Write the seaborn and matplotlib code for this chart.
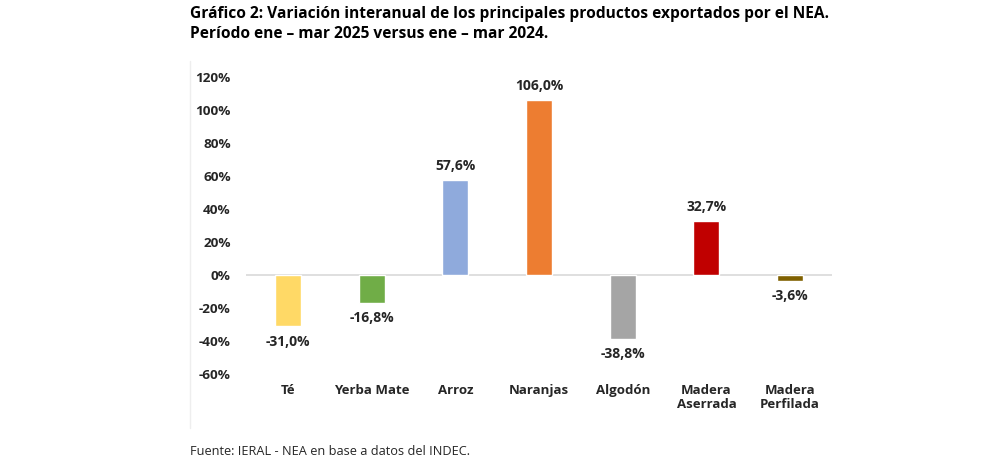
import matplotlib
matplotlib.use("Agg")
import matplotlib.pyplot as plt
import matplotlib.lines as mlines
import seaborn as sns
import pandas as pd

# datos
productos = ["Té", "Yerba Mate", "Arroz", "Naranjas", "Algodón",
             "Madera\nAserrada", "Madera\nPerfilada"]
variacion = [-31.0, -16.8, 57.6, 106.0, -38.8, 32.7, -3.6]
colores = ["#FFD966", "#70AD47", "#8FAADC", "#ED7D31", "#A5A5A5",
           "#C00000", "#7F6000"]
y_ticks = [-60, -40, -20, 0, 20, 40, 60, 80, 100, 120]

df = pd.DataFrame({"producto": productos, "variacion": variacion})

sns.set_style("white")
plt.rcParams["font.family"] = ["Open Sans", "DejaVu Sans"]

fig = plt.figure(figsize=(10, 4.67), dpi=100)
ax = fig.add_axes([0.246, 0.199, 0.586, 0.636])

sns.barplot(data=df, x="producto", y="variacion", hue="producto",
            palette=colores, width=0.31, legend=False, ax=ax, saturation=1)

ax.axhline(0, color="#D9D9D9", lw=1.2, zorder=0)
ax.set_ylim(-60, 120)
ax.set_xlim(-0.5, 6.5)
ax.set_yticks(y_ticks)
ax.set_yticklabels([f"{t}%" for t in y_ticks], fontsize=9.7, fontweight="bold",
                   color="#262626")
ax.tick_params(axis="x", labelsize=9.5, colors="#262626", length=0, pad=7)
ax.tick_params(axis="y", length=0, pad=11)
for lbl in ax.get_xticklabels():
    lbl.set_fontweight("bold")
    lbl.set_linespacing(1.1)
ax.set_xlabel("")
ax.set_ylabel("")
sns.despine(ax=ax, left=True, bottom=True)

# etiquetas de datos
for i, v in enumerate(variacion):
    txt = f"{v:.1f}%".replace(".", ",")
    if v >= 0:
        ax.annotate(txt, (i, v), xytext=(0, 5), textcoords="offset points",
                    ha="center", va="bottom", fontsize=10, fontweight="bold",
                    color="#262626")
    else:
        ax.annotate(txt, (i, v), xytext=(0, -6), textcoords="offset points",
                    ha="center", va="top", fontsize=10, fontweight="bold",
                    color="#262626")

fig.text(0.19, 0.988, "Gráfico 2: Variación interanual de los principales productos exportados por el NEA.\n"
         "Período ene – mar 2025 versus ene – mar 2024.",
         ha="left", va="top", fontsize=11.2, fontweight="bold", color="#000000",
         linespacing=1.35)
fig.text(0.19, 0.02, "Fuente: IERAL - NEA en base a datos del INDEC.",
         ha="left", va="bottom", fontsize=9.2, color="#262626")

# borde izquierdo tenue del area del grafico
fig.add_artist(mlines.Line2D([0.19, 0.19], [0.083, 0.87], color="#EEEEEE", lw=1))

fig.savefig("out.png", dpi=100, facecolor="white")
